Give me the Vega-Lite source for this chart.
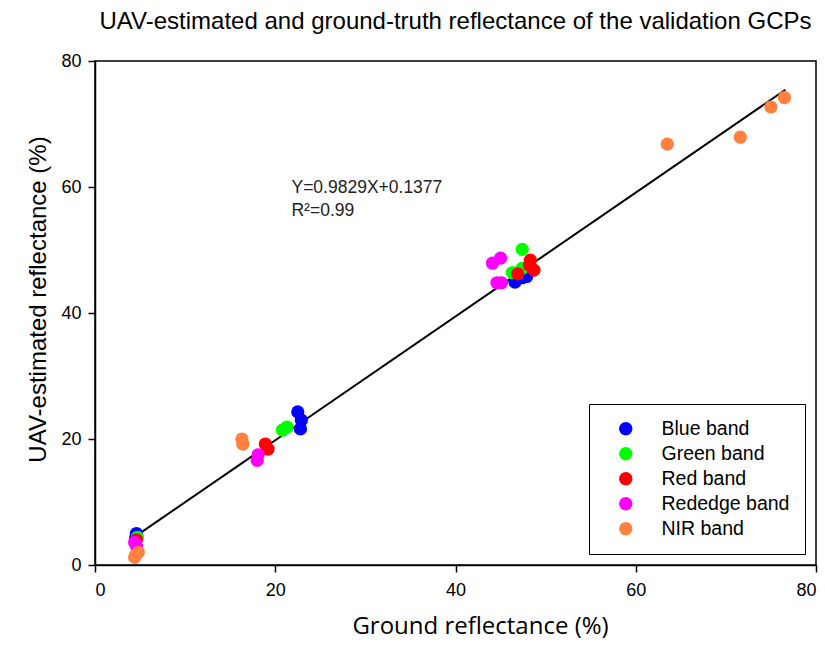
{
  "$schema": "https://vega.github.io/schema/vega-lite/v6.json",
  "autosize": "none",
  "padding": {"left": 95, "top": 61, "right": 9, "bottom": 85},
  "width": 721,
  "height": 504,
  "background": "white",
  "title": {
    "text": "UAV-estimated and ground-truth reflectance of the validation GCPs",
    "font": "Liberation Sans",
    "fontSize": 24,
    "fontWeight": "normal",
    "color": "black",
    "anchor": "middle",
    "offset": 18
  },
  "config": {
    "view": {"stroke": "black", "strokeWidth": 1.5},
    "axis": {
      "grid": false,
      "domainColor": "black",
      "domainWidth": 1.5,
      "tickColor": "black",
      "tickWidth": 1.5,
      "tickSize": 7,
      "labelFont": "Liberation Sans",
      "labelFontSize": 18,
      "labelColor": "black",
      "titleColor": "black",
      "titleFontWeight": "normal"
    }
  },
  "datasets": {
    "pts": [
      {"x": 4.6, "y": 5.0, "band": "Blue band"},
      {"x": 4.5, "y": 4.3, "band": "Blue band"},
      {"x": 22.5, "y": 24.3, "band": "Blue band"},
      {"x": 22.9, "y": 23.0, "band": "Blue band"},
      {"x": 22.8, "y": 21.6, "band": "Blue band"},
      {"x": 46.6, "y": 44.9, "band": "Blue band"},
      {"x": 47.4, "y": 45.6, "band": "Blue band"},
      {"x": 47.9, "y": 45.8, "band": "Blue band"},
      {"x": 4.7, "y": 4.4, "band": "Green band"},
      {"x": 20.8, "y": 21.4, "band": "Green band"},
      {"x": 21.3, "y": 21.9, "band": "Green band"},
      {"x": 47.4, "y": 50.1, "band": "Green band"},
      {"x": 46.3, "y": 46.4, "band": "Green band"},
      {"x": 47.4, "y": 47.1, "band": "Green band"},
      {"x": 4.6, "y": 4.0, "band": "Red band"},
      {"x": 18.9, "y": 19.2, "band": "Red band"},
      {"x": 19.2, "y": 18.4, "band": "Red band"},
      {"x": 48.3, "y": 48.4, "band": "Red band"},
      {"x": 48.7, "y": 46.8, "band": "Red band"},
      {"x": 46.9, "y": 46.2, "band": "Red band"},
      {"x": 48.2, "y": 47.6, "band": "Red band"},
      {"x": 4.4, "y": 3.6, "band": "Rededge band"},
      {"x": 4.6, "y": 3.0, "band": "Rededge band"},
      {"x": 18.1, "y": 17.5, "band": "Rededge band"},
      {"x": 18.0, "y": 16.6, "band": "Rededge band"},
      {"x": 44.1, "y": 47.9, "band": "Rededge band"},
      {"x": 45.0, "y": 48.7, "band": "Rededge band"},
      {"x": 44.6, "y": 44.8, "band": "Rededge band"},
      {"x": 45.1, "y": 44.8, "band": "Rededge band"},
      {"x": 4.5, "y": 1.5, "band": "NIR band"},
      {"x": 4.8, "y": 2.0, "band": "NIR band"},
      {"x": 4.4, "y": 1.2, "band": "NIR band"},
      {"x": 16.3, "y": 20.0, "band": "NIR band"},
      {"x": 16.4, "y": 19.2, "band": "NIR band"},
      {"x": 63.5, "y": 66.8, "band": "NIR band"},
      {"x": 71.6, "y": 67.9, "band": "NIR band"},
      {"x": 75.0, "y": 72.7, "band": "NIR band"},
      {"x": 76.5, "y": 74.2, "band": "NIR band"}
    ],
    "fit": [
      {"x": 4.2, "y": 4.27},
      {"x": 76.6, "y": 75.43}
    ],
    "notes": [
      {"x": 21.8, "y": 59.9, "label": "Y=0.9829X+0.1377"},
      {"x": 21.8, "y": 56.2, "label": "R²=0.99"}
    ]
  },
  "layer": [
    {
      "data": {"name": "fit"},
      "mark": {"type": "line", "color": "black", "strokeWidth": 2},
      "encoding": {
        "x": {"field": "x", "type": "quantitative"},
        "y": {"field": "y", "type": "quantitative"}
      }
    },
    {
      "data": {"name": "pts"},
      "mark": {"type": "circle", "size": 175, "opacity": 1},
      "encoding": {
        "x": {
          "field": "x", "type": "quantitative",
          "scale": {"domain": [0, 80], "nice": false},
          "axis": {
            "values": [0, 20, 40, 60, 80],
            "title": "Ground reflectance  (%)",
            "titleFont": "Open Sans",
            "titleFontSize": 24,
            "titlePadding": 15,
            "titleX": 385,
            "labelPadding": 9
          }
        },
        "y": {
          "field": "y", "type": "quantitative",
          "scale": {"domain": [0, 80], "nice": false},
          "axis": {
            "values": [0, 20, 40, 60, 80],
            "title": "UAV-estimated reflectance (%)",
            "titleFont": "Liberation Sans",
            "titleFontSize": 24,
            "titlePadding": 10,
            "titleY": 238,
            "labelPadding": 7
          }
        },
        "color": {
          "field": "band", "type": "nominal",
          "sort": ["Blue band", "Green band", "Red band", "Rededge band", "NIR band"],
          "scale": {
            "domain": ["Blue band", "Green band", "Red band", "Rededge band", "NIR band"],
            "range": ["#0000FF", "#00FF00", "#FF0000", "#FF00FF", "#FF8040"]
          },
          "legend": {
            "title": null,
            "orient": "bottom-right",
            "offset": 11,
            "strokeColor": "black",
            "fillColor": "white",
            "padding": 15,
            "symbolType": "circle",
            "symbolSize": 180,
            "symbolOpacity": 1,
            "symbolStrokeWidth": 0,
            "labelFont": "Liberation Sans",
            "labelFontSize": 19.5,
            "labelColor": "black",
            "labelOffset": 26,
            "rowPadding": 4,
            "labelLimit": 220,
            "symbolOffset": 12
          }
        }
      }
    },
    {
      "data": {"name": "notes"},
      "mark": {"type": "text", "align": "left", "baseline": "middle", "font": "Liberation Sans", "fontSize": 17.5, "color": "#222"},
      "encoding": {
        "x": {"field": "x", "type": "quantitative"},
        "y": {"field": "y", "type": "quantitative"},
        "text": {"field": "label"}
      }
    }
  ]
}
